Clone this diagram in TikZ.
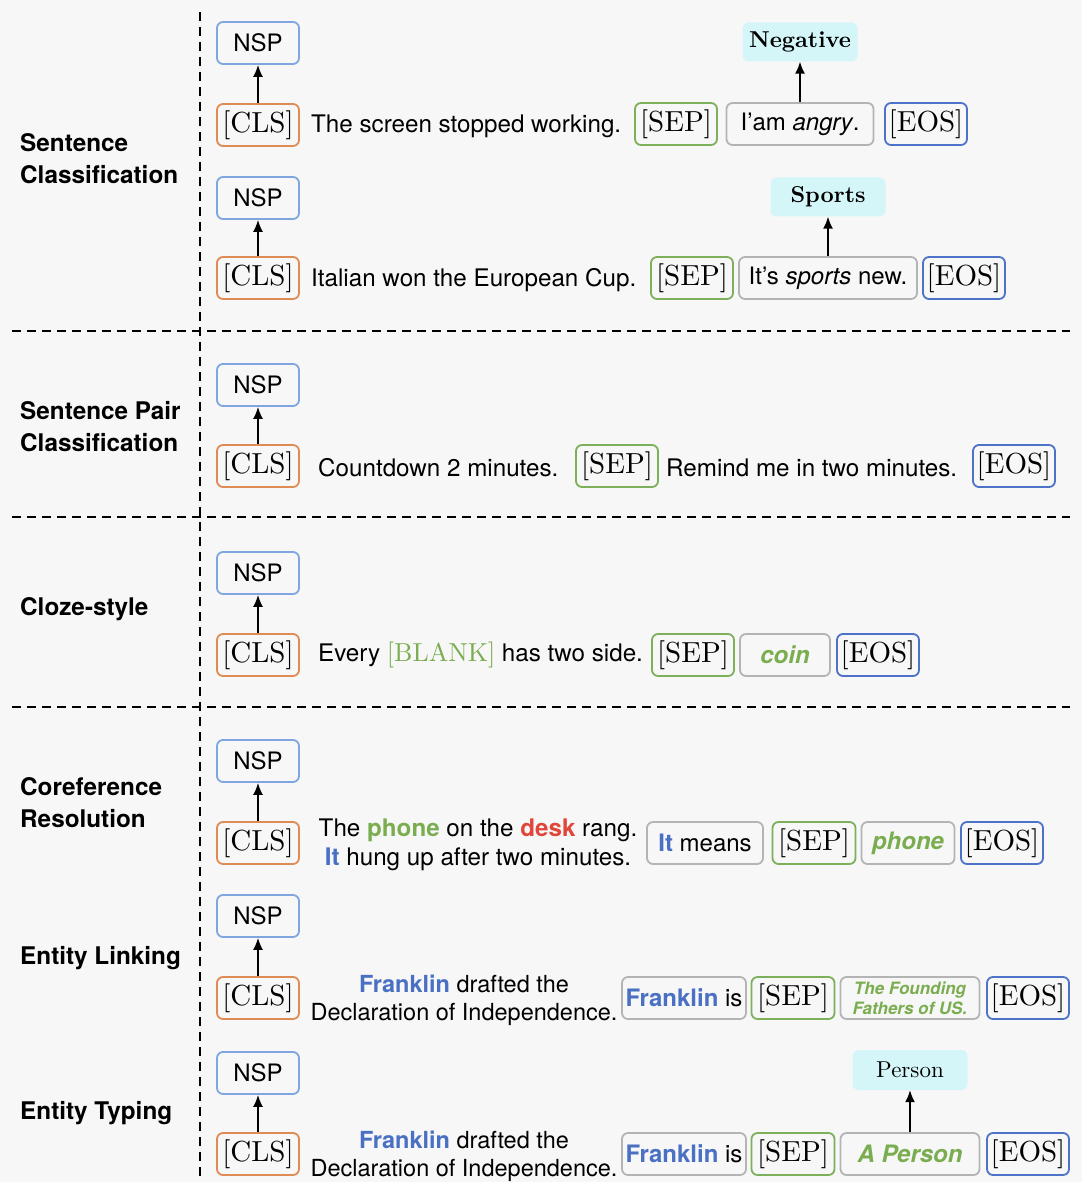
\documentclass[tikz,border=0pt]{standalone}
\usepackage{fontspec}
\setsansfont{TeX Gyre Heros}
\newfontfamily\tokfont{lmroman10-regular.otf}[BoldFont=lmroman10-bold.otf]
\usetikzlibrary{positioning}
\usetikzlibrary{arrows.meta}
\definecolor{pagegray}{HTML}{F7F7F7}
\definecolor{nspblue}{HTML}{7FA6DE}
\definecolor{eosblue}{HTML}{4F72C9}
\definecolor{clsorange}{HTML}{E08B53}
\definecolor{sepgreen}{HTML}{7DB05A}
\definecolor{boxgray}{HTML}{B4B4B4}
\definecolor{answercyan}{HTML}{D5F6F8}
\definecolor{wordblue}{HTML}{4A70C4}
\definecolor{wordred}{HTML}{E0463A}
\definecolor{wordgreen}{HTML}{7AAD4F}
\newcommand{\tok}[1]{{\tokfont\fontsize{29}{29}\selectfont[#1]}}
\newcommand{\hl}[2]{\textcolor{#1}{\textbf{#2}}}
\tikzset{
    % Task names down the left hand side
    task label/.style={anchor=west, align=left, inner sep=0,
        font=\sffamily\bfseries\fontsize{24.3}{32}\selectfont},
%
    % Plain sentence text
    sentence/.style={anchor=west, inner sep=0,
        font=\sffamily\fontsize{24.2}{29}\selectfont},
%
    % Common rounded token box
    token box/.style={draw, rounded corners=6pt, line width=1.8pt,
        minimum height=42pt, minimum width=82pt, inner sep=0,
        font=\sffamily\fontsize{24}{26}\selectfont},
    nsp box/.style={token box, draw=nspblue},
    cls box/.style={token box, draw=clsorange},
    sep box/.style={token box, draw=sepgreen},
    eos box/.style={token box, draw=eosblue},
    plain box/.style={token box, draw=boxgray},
%
    % Predicted answer, gently highlighted
    answer box/.style={fill=answercyan, rounded corners=6pt,
        minimum width=115pt, minimum height=39pt, inner sep=0,
        font=\tokfont\fontsize{23}{26}\selectfont},
%
    separator/.style={dashed, line width=2.2pt, dash pattern=on 9pt off 6pt},
%
    % Filled triangular arrow heads
    link arrow/.style={-{Latex[length=12pt,width=10pt]}, line width=1.6pt}}

\begin{document}
\begin{tikzpicture}[x=1pt, y=-1pt]

\useasboundingbox [fill=pagegray] (0,0) rectangle (1082,1182);

% Section separators
\draw [separator] (200,12) -- (200,1182);
\foreach \y in {331, 517, 707}
    \draw [separator] (12,\y) -- (1070,\y);

% Task names
\node [task label] (sc) at (20,159) {Sentence\\Classification};
\node [task label] (spc) at (20,427) {Sentence Pair\\Classification};
\node [task label] (cloze) at (20,609) {Cloze-style};
\node [task label] (coref) at (20,803) {Coreference\\Resolution};
\node [task label] (link) at (20,958) {Entity Linking};
\node [task label] (typing) at (20,1113) {Entity Typing};

% NSP heads on the [CLS] tokens
\foreach \n/\top/\bot in {1/43/125, 2/198/278, 3/385/466, 4/573/655,
                          5/761/843, 6/916/998, 7/1073/1154} {
    \node [nsp box] (nsp\n) at (258,\top) {NSP};
    \node [cls box] (cls\n) at (258,\bot) {\tok{CLS}};
    \draw [link arrow] (cls\n) -- (nsp\n);
}

% Sentence classification
\node [sentence] (text1) at (311,126) {The screen stopped working.};
\node [sep box] (sep1) at (676,124) {\tok{SEP}};
\node [plain box, minimum width=147pt] (prompt1) at (800,124) {I'am \textit{angry}.};
\node [eos box] (eos1) at (926,124) {\tok{EOS}};
\node [answer box] (label1) at (800,42) {\bfseries Negative};
\draw [link arrow] (prompt1) -- (label1);

\node [sentence] (text2) at (311,280) {Italian won the European Cup.};
\node [sep box] (sep2) at (692,278) {\tok{SEP}};
\node [plain box, minimum width=178pt] (prompt2) at (828,278) {It's \textit{sports} new.};
\node [eos box] (eos2) at (964,278) {\tok{EOS}};
\node [answer box] (label2) at (828,197) {\bfseries Sports};
\draw [link arrow] (prompt2) -- (label2);

% Sentence pair classification
\node [sentence] (text3) at (318,468) {Countdown 2 minutes.};
\node [sep box] (sep3) at (617,466) {\tok{SEP}};
\node [sentence] (pair3) at (666,468) {Remind me in two minutes.};
\node [eos box] (eos3) at (1014,466) {\tok{EOS}};

% Cloze-style
\node [sentence] (text4) at (318,655)
    {Every \textcolor{wordgreen}{\tokfont\fontsize{26}{26}\selectfont[BLANK]} has two side.};
\node [sep box] (sep4) at (693,655) {\tok{SEP}};
\node [plain box, minimum width=90pt] (prompt4) at (785,655)
    {\textcolor{wordgreen}{\bfseries\itshape coin}};
\node [eos box] (eos4) at (878,655) {\tok{EOS}};

% Coreference resolution
\node [sentence, align=center, anchor=center] (text5) at (478,845)
    {The \hl{wordgreen}{phone} on the \hl{wordred}{desk} rang.\\
     \hl{wordblue}{It} hung up after two minutes.};
\node [plain box, minimum width=116pt] (prompt5) at (705,843) {\hl{wordblue}{It} means};
\node [sep box, minimum width=83pt] (sep5) at (814,843) {\tok{SEP}};
\node [plain box, minimum width=93pt] (answer5) at (908,843)
    {\textcolor{wordgreen}{\bfseries\itshape phone}};
\node [eos box] (eos5) at (1002,843) {\tok{EOS}};

% Entity linking
\node [sentence, align=center, anchor=center,
       font=\sffamily\fontsize{23.5}{28}\selectfont] (text6) at (464,1000)
    {\hl{wordblue}{Franklin} drafted the\\
     Declaration of Independence.};
\node [plain box, minimum width=124pt] (prompt6) at (684,998) {\hl{wordblue}{Franklin} is};
\node [sep box, minimum width=83pt] (sep6) at (793,998) {\tok{SEP}};
\node [plain box, minimum width=139pt, align=center, text=wordgreen,
       font=\sffamily\bfseries\itshape\fontsize{17}{20}\selectfont] (answer6) at (910,998)
    {The Founding\\Fathers of US.};
\node [eos box] (eos6) at (1028,998) {\tok{EOS}};

% Entity typing
\node [sentence, align=center, anchor=center,
       font=\sffamily\fontsize{23.5}{28}\selectfont] (text7) at (464,1156)
    {\hl{wordblue}{Franklin} drafted the\\
     Declaration of Independence.};
\node [plain box, minimum width=124pt] (prompt7) at (684,1154) {\hl{wordblue}{Franklin} is};
\node [sep box, minimum width=83pt] (sep7) at (793,1154) {\tok{SEP}};
\node [plain box, minimum width=139pt] (answer7) at (910,1154)
    {\textcolor{wordgreen}{\bfseries\itshape A Person}};
\node [eos box] (eos7) at (1028,1154) {\tok{EOS}};
\node [answer box, minimum height=40pt] (label7) at (910,1070) {Person};
\draw [link arrow] (answer7) -- (label7);

\end{tikzpicture}
\end{document}
